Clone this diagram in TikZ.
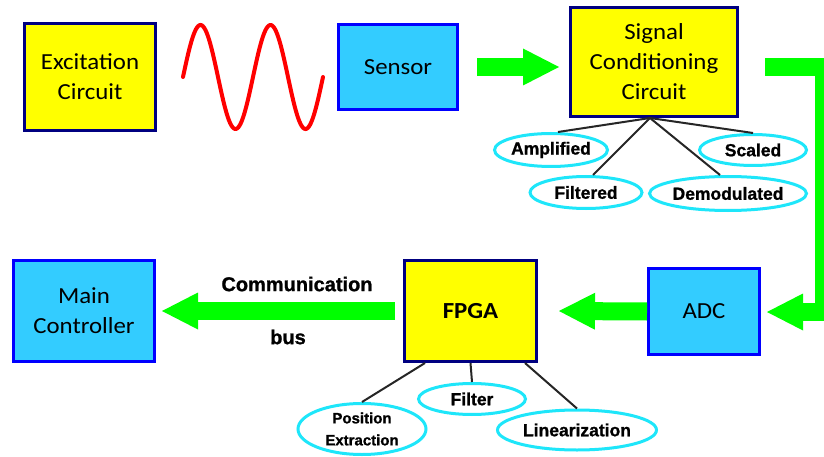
\documentclass[tikz,border=0pt]{standalone}
\usepackage{fontspec}
\newfontfamily\boxfont[FakeStretch=1.08]{Carlito}
\newfontfamily\lblfont{Liberation Sans}[BoldFeatures={FakeBold=1}]
\usetikzlibrary{arrows.meta,shapes.geometric}

\definecolor{navy}{RGB}{0,0,128}
\definecolor{boxyellow}{RGB}{255,255,0}
\definecolor{boxblue}{RGB}{0,0,255}
\definecolor{boxcyan}{RGB}{51,204,255}
\definecolor{flowgreen}{RGB}{0,255,0}
\definecolor{ringcyan}{RGB}{30,230,250}
\definecolor{wavered}{RGB}{255,0,0}

\tikzset{
  basebox/.style={rectangle, line width=3pt, align=center, inner sep=0pt,
    font=\boxfont\fontsize{23}{30}\selectfont},
  yellowbox/.style={basebox, draw=navy, fill=boxyellow},
  bluebox/.style={basebox, draw=boxblue, fill=boxcyan},
  tag/.style={ellipse, draw=ringcyan, line width=3pt, fill=white, inner sep=0pt,
    align=center, font=\lblfont\bfseries\fontsize{17.5}{22}\selectfont},
  smalltag/.style={tag, font=\lblfont\bfseries\fontsize{15}{22}\selectfont},
  flow/.style={draw=flowgreen, line width=18pt, line join=miter,
    -{Triangle[length=36pt,width=37pt,line width=0pt]}},
  link/.style={draw=black!85, line width=2pt},
  buslabel/.style={font=\lblfont\bfseries\fontsize{20}{24}\selectfont},
}

\begin{document}
\begin{tikzpicture}[x=1pt,y=-1pt]
\useasboundingbox (0,0) rectangle (824,457);
\clip (0,0) rectangle (824,457);

% blocks
\node[yellowbox, minimum width=131pt, minimum height=107pt] (exc) at (90,77) {Excitation\\Circuit};
\node[bluebox, minimum width=119pt, minimum height=85pt] (sensor) at (398,67) {Sensor};
\node[yellowbox, minimum width=167pt, minimum height=109pt] (sc) at (654,62) {Signal\\Conditioning\\Circuit};
\node[bluebox, minimum width=111pt, minimum height=86pt] (adc) at (704,311.5) {ADC};
\node[yellowbox, minimum width=132pt, minimum height=101pt, font=\boxfont\bfseries\fontsize{23}{30}\selectfont] (fpga) at (470.5,311) {FPGA};
\node[bluebox, minimum width=141pt, minimum height=101pt] (main) at (84,311) {Main\\Controller};

% excitation signal
\draw[wavered, line width=4pt, line cap=round]
  plot[domain=0:140, samples=120] (\x+183, {77-52*sin(\x/70*360)});

% signal conditioning functions
\node[tag, minimum width=113pt, minimum height=33pt] (amp) at (551,150) {Amplified};
\node[tag, minimum width=107pt, minimum height=31pt] (scaled) at (753,150) {Scaled};
\node[tag, minimum width=112pt, minimum height=32pt] (filt) at (586,192.5) {Filtered};
\node[tag, minimum width=157pt, minimum height=34pt] (demod) at (728,193.5) {Demodulated};

\coordinate (scbase) at ([xshift=-4pt]sc.south);
\draw[link] (scbase) -- ([xshift=7pt]amp.north);
\draw[link] (scbase) -- (scaled.north);
\draw[link] (scbase) -- ([xshift=7pt]filt.north);
\draw[link] (scbase) -- ([xshift=-8pt]demod.north);

% FPGA functions
\node[smalltag, minimum width=128pt, minimum height=51pt] (posext) at (362,429) {Position\\Extraction};
\node[tag, minimum width=107pt, minimum height=31pt] (filter) at (472,399) {Filter};
\node[tag, minimum width=159pt, minimum height=40pt] (linear) at (577,430) {Linearization};

\draw[link] ([xshift=-45.5pt]fpga.south) -- (posext.north);
\draw[link] (fpga.south) -- (filter.north);
\draw[link] ([xshift=54.5pt]fpga.south) -- (linear.north);

% signal flow
\draw[flow] ([xshift=18pt]sensor.east) -- ([xshift=-10pt]sensor.east -| sc.west);
\coordinate (turnA) at (824,67);
\coordinate (turnB) at (824,312);
\draw[flow] ([xshift=26pt]sc.east |- sensor.east) -- (turnA) -- (turnB) -- ([xshift=6pt]turnB -| adc.east);
\draw[flow] (adc.west) -- ([xshift=21pt]fpga.east);
\draw[flow] ([xshift=-8pt]fpga.west) -- ([xshift=6pt]main.east);

\node[buslabel] (comm) at (297,284) {Communication};
\node[buslabel] (bus) at (288,337) {bus};
\end{tikzpicture}
\end{document}
